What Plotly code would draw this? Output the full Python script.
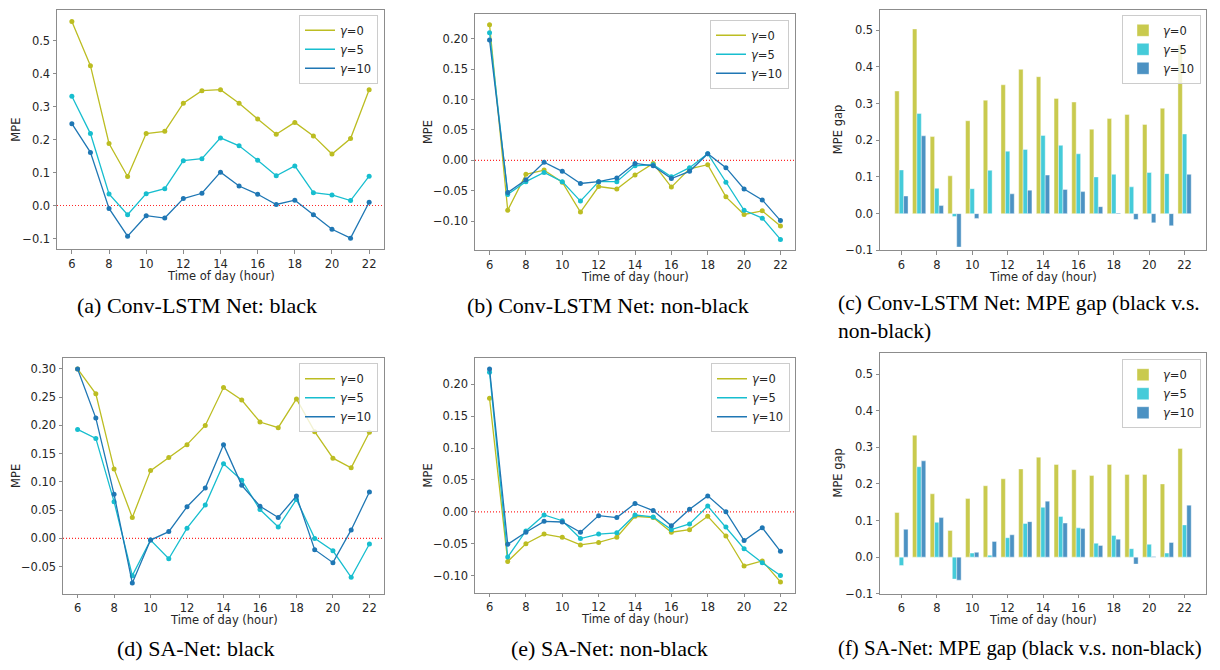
import plotly.graph_objects as go

hours = list(range(6, 23))
series_names = ["<i>γ</i>=0", "<i>γ</i>=5", "<i>γ</i>=10"]
line_colors = ["#bcbd22", "#17becf", "#1f77b4"]
bar_colors = ["rgba(188,189,34,0.8)", "rgba(23,190,207,0.8)", "rgba(31,119,180,0.8)"]

x_ticks = [6, 8, 10, 12, 14, 16, 18, 20, 22]
x_ticktext = ["6", "8", "10", "12", "14", "16", "18", "20", "22"]
yt_tenths = [-0.1, 0.0, 0.1, 0.2, 0.3, 0.4, 0.5]
yt_tenths_text = ["−0.1", "0.0", "0.1", "0.2", "0.3", "0.4", "0.5"]
yt_b = [-0.10, -0.05, 0.00, 0.05, 0.10, 0.15, 0.20]
yt_b_text = ["−0.10", "−0.05", "0.00", "0.05", "0.10", "0.15", "0.20"]
yt_d = [-0.05, 0.00, 0.05, 0.10, 0.15, 0.20, 0.25, 0.30]
yt_d_text = ["−0.05", "0.00", "0.05", "0.10", "0.15", "0.20", "0.25", "0.30"]

# (a) Conv-LSTM Net: black
a_g0 = [0.558, 0.424, 0.188, 0.088, 0.218, 0.225, 0.310, 0.348, 0.351, 0.310, 0.262, 0.216, 0.252, 0.211, 0.156, 0.203, 0.351]
a_g5 = [0.331, 0.218, 0.035, -0.028, 0.036, 0.051, 0.136, 0.142, 0.205, 0.181, 0.137, 0.090, 0.120, 0.039, 0.032, 0.015, 0.089]
a_g10 = [0.248, 0.161, -0.009, -0.093, -0.031, -0.038, 0.021, 0.037, 0.101, 0.059, 0.034, 0.003, 0.016, -0.028, -0.072, -0.099, 0.010]
# (b) Conv-LSTM Net: non-black
b_g0 = [0.223, -0.082, -0.023, -0.016, -0.036, -0.085, -0.043, -0.047, -0.024, -0.005, -0.044, -0.014, -0.007, -0.060, -0.089, -0.083, -0.108]
b_g5 = [0.210, -0.056, -0.035, -0.020, -0.035, -0.067, -0.035, -0.035, -0.009, -0.007, -0.027, -0.012, 0.011, -0.036, -0.082, -0.095, -0.130]
b_g10 = [0.198, -0.053, -0.032, -0.003, -0.018, -0.038, -0.035, -0.029, -0.005, -0.009, -0.030, -0.018, 0.011, -0.012, -0.047, -0.065, -0.099]
# (c) Conv-LSTM Net: MPE gap
c_g0 = [0.334, 0.503, 0.210, 0.103, 0.253, 0.309, 0.351, 0.393, 0.373, 0.314, 0.304, 0.230, 0.259, 0.270, 0.243, 0.287, 0.460]
c_g5 = [0.119, 0.273, 0.069, -0.008, 0.068, 0.118, 0.170, 0.175, 0.213, 0.186, 0.163, 0.100, 0.107, 0.073, 0.112, 0.109, 0.217]
c_g10 = [0.048, 0.212, 0.022, -0.091, -0.013, 0.000, 0.054, 0.064, 0.105, 0.066, 0.060, 0.019, 0.002, -0.016, -0.025, -0.033, 0.107]
# (d) SA-Net: black
d_g0 = [0.300, 0.256, 0.123, 0.037, 0.120, 0.143, 0.166, 0.200, 0.267, 0.245, 0.206, 0.196, 0.247, 0.189, 0.142, 0.125, 0.188]
d_g5 = [0.193, 0.177, 0.065, -0.066, -0.003, -0.036, 0.018, 0.059, 0.132, 0.103, 0.051, 0.020, 0.069, 0.000, -0.022, -0.069, -0.010]
d_g10 = [0.300, 0.213, 0.078, -0.079, -0.003, 0.012, 0.056, 0.089, 0.166, 0.094, 0.057, 0.037, 0.075, -0.020, -0.043, 0.015, 0.082]
# (e) SA-Net: non-black
e_g0 = [0.178, -0.078, -0.050, -0.035, -0.040, -0.052, -0.048, -0.040, -0.007, -0.009, -0.032, -0.028, -0.007, -0.038, -0.085, -0.077, -0.110]
e_g5 = [0.219, -0.071, -0.030, -0.005, -0.014, -0.042, -0.035, -0.033, -0.005, -0.008, -0.028, -0.019, 0.009, -0.024, -0.058, -0.080, -0.100]
e_g10 = [0.224, -0.051, -0.032, -0.015, -0.016, -0.032, -0.006, -0.009, 0.013, 0.002, -0.022, 0.004, 0.025, 0.000, -0.045, -0.025, -0.062]
# (f) SA-Net: MPE gap
f_g0 = [0.122, 0.333, 0.173, 0.073, 0.160, 0.195, 0.214, 0.241, 0.273, 0.253, 0.239, 0.223, 0.253, 0.226, 0.226, 0.200, 0.297]
f_g5 = [-0.023, 0.247, 0.095, -0.060, 0.011, 0.005, 0.053, 0.092, 0.136, 0.111, 0.080, 0.038, 0.059, 0.023, 0.035, 0.011, 0.088]
f_g10 = [0.076, 0.263, 0.108, -0.063, 0.013, 0.043, 0.061, 0.097, 0.153, 0.093, 0.078, 0.032, 0.049, -0.019, 0.002, 0.040, 0.142]

captions = [
    "(a) Conv-LSTM Net: black",
    "(b) Conv-LSTM Net: non-black",
    "(c) Conv-LSTM Net: MPE gap (black v.s.<br>non-black)",
    "(d) SA-Net: black",
    "(e) SA-Net: non-black",
    "(f) SA-Net: MPE gap (black v.s. non-black)",
]
x_title = "Time of day (hour)"
y_titles = ["MPE", "MPE", "MPE gap", "MPE", "MPE", "MPE gap"]

W, H = 1220, 670
panels = [
    dict(kind="line", data=[a_g0, a_g5, a_g10], box=(57, 384, 10, 252), yr=[-0.133, 0.593],
         yt=(yt_tenths, yt_tenths_text), leg=(378, 15), ylx=16, cap=(197, 309, "center", 22)),
    dict(kind="line", data=[b_g0, b_g5, b_g10], box=(475, 795, 14, 253), yr=[-0.148, 0.241],
         yt=(yt_b, yt_b_text), leg=(789, 20), ylx=428, cap=(608, 309, "center", 22)),
    dict(kind="bar", data=[c_g0, c_g5, c_g10], box=(880, 1206, 10, 253), yr=[-0.1, 0.555],
         yt=(yt_tenths, yt_tenths_text), leg=(1201, 15), ylx=838, cap=(836, 320, "left", 21.5)),
    dict(kind="line", data=[d_g0, d_g5, d_g10], box=(63, 384, 362, 600), yr=[-0.098, 0.319],
         yt=(yt_d, yt_d_text), leg=(378, 367), ylx=16, cap=(196, 655, "center", 22)),
    dict(kind="line", data=[e_g0, e_g5, e_g10], box=(475, 795, 362, 599), yr=[-0.127, 0.241],
         yt=(yt_b, yt_b_text), leg=(790, 367), ylx=428, cap=(609, 655, "center", 22)),
    dict(kind="bar", data=[f_g0, f_g5, f_g10], box=(880, 1206, 357, 600), yr=[-0.1, 0.557],
         yt=(yt_tenths, yt_tenths_text), leg=(1201, 363), ylx=838, cap=(836, 655, "left", 20.8)),
]

FONT = "DejaVu Sans"
fs = 11.5
axcol = "#8c8c8c"
txtcol = "#262626"

fig = go.Figure()
annotations = []
shapes = []
layout_extra = {}

for i, p in enumerate(panels):
    n = i + 1
    xa = "x" if n == 1 else f"x{n}"
    ya = "y" if n == 1 else f"y{n}"
    lg = "legend" if n == 1 else f"legend{n}"
    l, r, t, b = p["box"]
    if p["kind"] == "line":
        shapes.append(dict(type="line", xref=f"{xa} domain", yref=ya, x0=0, x1=1, y0=0, y1=0,
                           layer="below", line=dict(color="rgb(255,40,40)", width=1.2, dash="1px,2px")))
    for k in range(3):
        if p["kind"] == "line":
            fig.add_trace(go.Scatter(
                x=hours, y=p["data"][k], mode="lines+markers", xaxis=xa, yaxis=ya,
                line=dict(color=line_colors[k], width=1.3),
                marker=dict(color=line_colors[k], size=5), showlegend=False))
            fig.add_trace(go.Scatter(
                x=[None], y=[None], mode="lines", xaxis=xa, yaxis=ya, name=series_names[k],
                line=dict(color=line_colors[k], width=1.5), legend=lg, showlegend=True))
        else:
            fig.add_trace(go.Bar(
                x=hours, y=p["data"][k], xaxis=xa, yaxis=ya, name=series_names[k],
                marker=dict(color=bar_colors[k], line=dict(color="rgba(255,255,255,0.7)", width=0.6)),
                legend=lg, showlegend=True))
    xr = [5.2, 22.8] if p["kind"] == "line" else [4.79, 23.21]
    common = dict(showline=True, mirror=True, linecolor=axcol, linewidth=1, ticks="outside",
                  ticklen=3.5, tickwidth=1, tickcolor=axcol, showgrid=False, zeroline=False,
                  tickfont=dict(family=FONT, size=fs, color=txtcol))
    layout_extra["xaxis" if n == 1 else f"xaxis{n}"] = dict(
        domain=[l / W, r / W], anchor=ya, range=xr, tickmode="array",
        tickvals=x_ticks, ticktext=x_ticktext, **common)
    layout_extra["yaxis" if n == 1 else f"yaxis{n}"] = dict(
        domain=[1 - b / H, 1 - t / H], anchor=xa, range=p["yr"], tickmode="array",
        tickvals=p["yt"][0], ticktext=p["yt"][1], **common)
    layout_extra[lg] = dict(
        x=p["leg"][0] / W, y=1 - p["leg"][1] / H, xanchor="right", yanchor="top",
        xref="paper", yref="paper",
        bgcolor="rgba(255,255,255,0.8)", bordercolor="#cccccc", borderwidth=1,
        font=dict(family=FONT, size=fs, color=txtcol), itemwidth=30, tracegroupgap=0)
    annotations.append(dict(text=x_title, x=(l + r) / 2 / W, y=1 - (b + 27) / H, xref="paper",
                            yref="paper", showarrow=False, xanchor="center", yanchor="middle",
                            font=dict(family=FONT, size=fs, color=txtcol)))
    annotations.append(dict(text=y_titles[i], x=p["ylx"] / W, y=1 - (t + b) / 2 / H, xref="paper",
                            yref="paper", showarrow=False, xanchor="center", yanchor="middle",
                            textangle=-90, font=dict(family=FONT, size=fs, color=txtcol)))
    cx, cy, al, cfs = p["cap"]
    annotations.append(dict(text=captions[i], x=cx / W, y=1 - cy / H, xref="paper", yref="paper",
                            showarrow=False, xanchor=al, yanchor="middle", align="left",
                            font=dict(family="Liberation Serif", size=cfs, color="black")))

fig.update_layout(
    width=W, height=H, margin=dict(l=0, r=0, t=0, b=0),
    paper_bgcolor="white", plot_bgcolor="white",
    barmode="group", bargap=0.25, bargroupgap=0,
    annotations=annotations, shapes=shapes, **layout_extra)

fig.write_html("out.html")
